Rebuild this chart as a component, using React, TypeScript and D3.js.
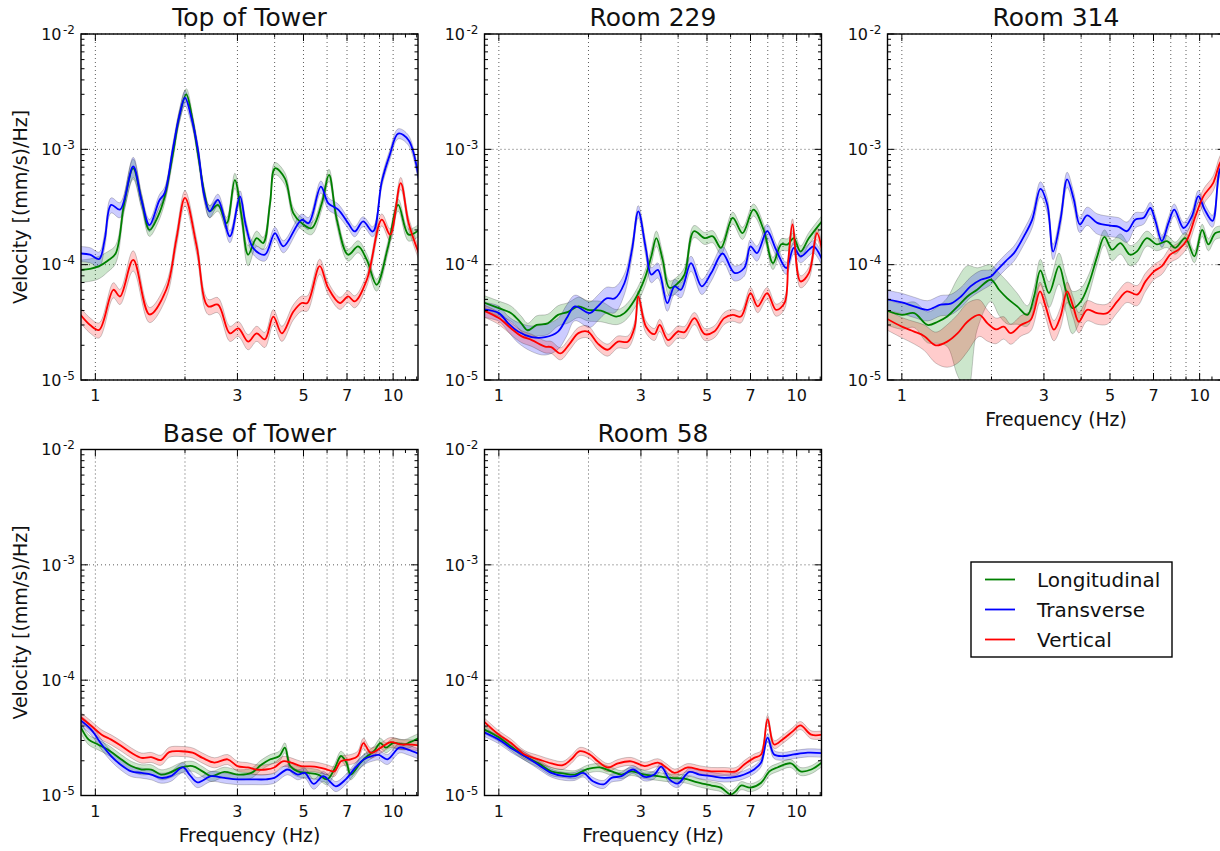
import React from "react";
import * as d3 from "d3";

// each point: [frequency (Hz), mean velocity, relative spread of the shaded band]
type Pt = [number, number, number];

const topLong: Pt[] = [
  [0.89, 9.0e-5, 0.22], [0.96, 9.2e-5, 0.22], [1.03, 9.7e-5, 0.22], [1.1, 1.08e-4, 0.2],
  [1.17, 1.25e-4, 0.18], [1.25, 3.4e-4, 0.15], [1.34, 6.85e-4, 0.2], [1.43, 3.6e-4, 0.15],
  [1.52, 2.0e-4, 0.12], [1.62, 2.6e-4, 0.12], [1.71, 3.9e-4, 0.12], [1.82, 9.0e-4, 0.12],
  [1.92, 2.0e-3, 0.12], [2.02, 3.0e-3, 0.12], [2.12, 1.8e-3, 0.12], [2.22, 8.5e-4, 0.12],
  [2.33, 4.0e-4, 0.12], [2.42, 2.9e-4, 0.12], [2.58, 3.3e-4, 0.12], [2.76, 2.29e-4, 0.12],
  [2.94, 5.4e-4, 0.15], [3.1, 2.6e-4, 0.15], [3.26, 1.22e-4, 0.2], [3.48, 1.7e-4, 0.15],
  [3.66, 1.54e-4, 0.12], [3.86, 3.4e-4, 0.12], [4.01, 6.85e-4, 0.12], [4.33, 5.6e-4, 0.12],
  [4.62, 2.8e-4, 0.12], [4.93, 2.29e-4, 0.12], [5.32, 2.07e-4, 0.12], [5.76, 3.4e-4, 0.12],
  [6.09, 6.0e-4, 0.12], [6.47, 2.45e-4, 0.12], [7.06, 1.22e-4, 0.12], [7.63, 1.44e-4, 0.12],
  [8.16, 1.1e-4, 0.12], [8.8, 6.7e-5, 0.12], [9.62, 1.44e-4, 0.12], [10.4, 3.3e-4, 0.12],
  [11.27, 1.82e-4, 0.12], [12.2, 2.0e-4, 0.12],
];
const topTrans: Pt[] = [
  [0.89, 1.25e-4, 0.15], [0.96, 1.22e-4, 0.15], [1.03, 1.12e-4, 0.15], [1.075, 1.65e-4, 0.15],
  [1.13, 3.3e-4, 0.15], [1.21, 3.0e-4, 0.15], [1.34, 7.1e-4, 0.2], [1.43, 3.6e-4, 0.12],
  [1.52, 2.2e-4, 0.12], [1.64, 3.6e-4, 0.12], [1.71, 4.2e-4, 0.12], [1.82, 1.0e-3, 0.12],
  [1.91, 1.9e-3, 0.12], [2.0, 2.8e-3, 0.15], [2.1, 1.9e-3, 0.12], [2.21, 1.0e-3, 0.12],
  [2.32, 4.0e-4, 0.12], [2.42, 2.9e-4, 0.12], [2.58, 3.65e-4, 0.12], [2.83, 1.76e-4, 0.12],
  [3.06, 3.9e-4, 0.12], [3.2, 2.2e-4, 0.12], [3.39, 1.39e-4, 0.12], [3.71, 1.22e-4, 0.12],
  [4.01, 1.88e-4, 0.12], [4.28, 1.44e-4, 0.12], [4.93, 2.45e-4, 0.12], [5.2, 2.29e-4, 0.12],
  [5.72, 4.75e-4, 0.12], [6.06, 3.4e-4, 0.12], [6.54, 3.0e-4, 0.12], [7.06, 2.29e-4, 0.1],
  [7.43, 1.94e-4, 0.1], [7.93, 2.37e-4, 0.1], [8.55, 1.94e-4, 0.1], [9.16, 5.25e-4, 0.1],
  [9.75, 9.0e-4, 0.1], [10.4, 1.37e-3, 0.1], [11.27, 1.2e-3, 0.1], [12.2, 5.5e-4, 0.1],
];
const topVert: Pt[] = [
  [0.89, 3.7e-5, 0.15], [0.96, 3.0e-5, 0.15], [1.03, 2.72e-5, 0.15], [1.15, 6.06e-5, 0.15],
  [1.21, 5.3e-5, 0.15], [1.34, 1.1e-4, 0.2], [1.52, 3.7e-5, 0.15], [1.73, 6.06e-5, 0.15],
  [1.87, 1.65e-4, 0.15], [2.0, 3.8e-4, 0.15], [2.19, 1.44e-4, 0.15], [2.39, 4.35e-5, 0.15],
  [2.58, 4.5e-5, 0.15], [2.83, 2.54e-5, 0.15], [3.02, 2.8e-5, 0.15], [3.26, 2.15e-5, 0.15],
  [3.48, 2.54e-5, 0.15], [3.71, 2.25e-5, 0.15], [3.96, 3.55e-5, 0.15], [4.23, 2.54e-5, 0.15],
  [4.62, 3.9e-5, 0.15], [4.93, 4.65e-5, 0.15], [5.15, 4.65e-5, 0.15], [5.67, 9.7e-5, 0.15],
  [6.05, 6.3e-5, 0.12], [6.63, 4.65e-5, 0.12], [7.06, 5.3e-5, 0.12], [7.43, 4.8e-5, 0.12],
  [8.16, 7.4e-5, 0.12], [9.16, 2.46e-4, 0.12], [9.77, 1.82e-4, 0.12], [10.6, 5.1e-4, 0.12],
  [11.27, 2.3e-4, 0.12], [12.2, 1.25e-4, 0.12],
];

const r229Long: Pt[] = [
  [0.89, 4.7e-5, 0.15], [1.0, 4.2e-5, 0.15], [1.1, 3.8e-5, 0.15], [1.19, 3.1e-5, 0.15],
  [1.25, 2.7e-5, 0.15], [1.34, 3.0e-5, 0.2], [1.46, 3.1e-5, 0.2], [1.58, 3.67e-5, 0.2],
  [1.71, 3.9e-5, 0.2], [1.85, 4.35e-5, 0.2], [1.99, 4.06e-5, 0.2], [2.2, 4.0e-5, 0.2],
  [2.48, 3.55e-5, 0.15], [2.64, 3.8e-5, 0.15], [2.86, 4.96e-5, 0.15], [3.09, 7.6e-5, 0.15],
  [3.25, 1.18e-4, 0.15], [3.38, 1.7e-4, 0.15], [3.55, 1.1e-4, 0.15], [3.74, 6.3e-5, 0.15],
  [3.99, 6.9e-5, 0.15], [4.2, 8.2e-5, 0.15], [4.52, 1.95e-4, 0.12], [4.91, 1.7e-4, 0.12],
  [5.23, 1.76e-4, 0.12], [5.57, 1.4e-4, 0.12], [6.1, 2.55e-4, 0.12], [6.58, 1.88e-4, 0.12],
  [7.16, 3.0e-4, 0.12], [7.75, 2.0e-4, 0.12], [8.33, 1.03e-4, 0.12], [8.88, 1.5e-4, 0.12],
  [9.33, 1.5e-4, 0.12], [9.78, 1.7e-4, 0.12], [10.3, 1.3e-4, 0.12], [11.0, 1.7e-4, 0.12],
  [12.2, 2.4e-4, 0.12],
];
const r229Trans: Pt[] = [
  [0.89, 4.1e-5, 0.15], [1.0, 3.8e-5, 0.15], [1.075, 3.1e-5, 0.15], [1.16, 2.63e-5, 0.2],
  [1.29, 2.35e-5, 0.25], [1.43, 2.35e-5, 0.3], [1.58, 2.63e-5, 0.3], [1.69, 3.44e-5, 0.3],
  [1.8, 4.35e-5, 0.25], [2.02, 3.8e-5, 0.25], [2.15, 4.35e-5, 0.25], [2.3, 5.1e-5, 0.25],
  [2.45, 5.1e-5, 0.25], [2.64, 6.9e-5, 0.2], [2.8, 1.35e-4, 0.15], [2.94, 2.9e-4, 0.12],
  [3.12, 1.35e-4, 0.15], [3.25, 8.2e-5, 0.15], [3.42, 9.0e-5, 0.15], [3.68, 4.64e-5, 0.15],
  [3.89, 6.48e-5, 0.15], [4.09, 6.06e-5, 0.15], [4.42, 1.03e-4, 0.15], [4.8, 6.48e-5, 0.15],
  [5.17, 8.5e-5, 0.15], [5.64, 1.25e-4, 0.15], [6.18, 8.5e-5, 0.15], [6.67, 9.35e-5, 0.15],
  [7.0, 1.44e-4, 0.15], [7.36, 1.26e-4, 0.15], [7.96, 1.95e-4, 0.15], [8.53, 1.35e-4, 0.12],
  [9.23, 9.35e-5, 0.12], [9.78, 1.4e-4, 0.12], [10.3, 1.18e-4, 0.12], [11.0, 1.35e-4, 0.12],
  [11.4, 1.44e-4, 0.12], [12.2, 1.1e-4, 0.12],
];
const r229Vert: Pt[] = [
  [0.89, 4.0e-5, 0.12], [1.0, 3.44e-5, 0.12], [1.1, 2.8e-5, 0.12], [1.19, 2.4e-5, 0.12],
  [1.29, 2.22e-5, 0.12], [1.43, 1.95e-5, 0.12], [1.5, 1.93e-5, 0.12], [1.61, 1.7e-5, 0.12],
  [1.73, 2.07e-5, 0.12], [1.85, 2.55e-5, 0.12], [1.99, 2.63e-5, 0.12], [2.15, 2.07e-5, 0.12],
  [2.32, 1.83e-5, 0.12], [2.51, 2.15e-5, 0.12], [2.71, 2.15e-5, 0.12], [2.86, 2.9e-5, 0.12],
  [2.94, 5.3e-5, 0.12], [3.12, 2.9e-5, 0.12], [3.33, 2.5e-5, 0.12], [3.47, 3.0e-5, 0.12],
  [3.7, 2.22e-5, 0.12], [3.99, 2.63e-5, 0.12], [4.2, 2.6e-5, 0.12], [4.54, 3.44e-5, 0.12],
  [4.91, 2.5e-5, 0.12], [5.29, 2.63e-5, 0.12], [5.71, 3.44e-5, 0.12], [6.1, 3.67e-5, 0.12],
  [6.5, 3.55e-5, 0.12], [7.0, 5.67e-5, 0.12], [7.4, 4.35e-5, 0.12], [7.96, 5.67e-5, 0.12],
  [8.53, 4.06e-5, 0.12], [9.1, 4.64e-5, 0.12], [9.38, 1.1e-4, 0.12], [9.69, 2.23e-4, 0.12],
  [10.3, 7.16e-5, 0.12], [11.0, 8.5e-5, 0.12], [11.7, 1.88e-4, 0.12], [12.2, 1.3e-4, 0.12],
];

const r314Long: Pt[] = [
  [0.89, 4.0e-5, 0.25], [1.0, 3.67e-5, 0.25], [1.1, 3.8e-5, 0.25], [1.22, 3.0e-5, 0.3],
  [1.32, 3.2e-5, 0.35], [1.42, 3.55e-5, 0.45], [1.54, 4.35e-5, 0.75], [1.66, 5.3e-5, 0.85],
  [1.79, 6.06e-5, 0.55], [1.99, 7.4e-5, 0.35], [2.12, 6.06e-5, 0.4], [2.26, 5.1e-5, 0.4],
  [2.44, 4.35e-5, 0.3], [2.64, 3.67e-5, 0.2], [2.78, 5.3e-5, 0.2], [2.92, 8.9e-5, 0.25],
  [3.12, 5.67e-5, 0.25], [3.37, 9.7e-5, 0.3], [3.55, 6.06e-5, 0.35], [3.74, 4.2e-5, 0.4],
  [3.99, 4.8e-5, 0.3], [4.25, 6.9e-5, 0.2], [4.53, 1.18e-4, 0.15], [4.79, 1.74e-4, 0.15],
  [5.08, 1.35e-4, 0.2], [5.42, 1.54e-4, 0.2], [5.84, 1.22e-4, 0.2], [6.15, 1.3e-4, 0.2],
  [6.65, 1.7e-4, 0.15], [7.18, 1.5e-4, 0.12], [7.77, 1.6e-4, 0.12], [8.28, 1.4e-4, 0.12],
  [8.95, 1.7e-4, 0.12], [9.6, 1.18e-4, 0.12], [10.2, 2.0e-4, 0.12], [10.7, 1.5e-4, 0.12],
  [11.3, 1.88e-4, 0.12], [12.2, 1.95e-4, 0.12],
];
const r314Trans: Pt[] = [
  [0.89, 5.0e-5, 0.2], [1.0, 4.7e-5, 0.2], [1.1, 4.35e-5, 0.2], [1.22, 4.06e-5, 0.2],
  [1.35, 4.5e-5, 0.2], [1.46, 4.6e-5, 0.2], [1.58, 5.3e-5, 0.2], [1.7, 6.48e-5, 0.2],
  [1.84, 7.4e-5, 0.2], [1.99, 7.9e-5, 0.15], [2.09, 9.0e-5, 0.15], [2.23, 1.07e-4, 0.15],
  [2.38, 1.26e-4, 0.15], [2.57, 1.76e-4, 0.15], [2.74, 2.46e-4, 0.15], [2.92, 4.55e-4, 0.15],
  [3.08, 3.3e-4, 0.15], [3.22, 1.3e-4, 0.15], [3.41, 2.46e-4, 0.15], [3.59, 5.5e-4, 0.15],
  [3.78, 3.67e-4, 0.15], [3.96, 2.23e-4, 0.15], [4.19, 2.67e-4, 0.18], [4.53, 2.3e-4, 0.2],
  [5.02, 2.18e-4, 0.2], [5.35, 2.13e-4, 0.2], [5.7, 1.95e-4, 0.2], [6.09, 2.46e-4, 0.15],
  [6.49, 2.55e-4, 0.12], [6.83, 3.1e-4, 0.12], [7.1, 2.4e-4, 0.12], [7.47, 1.6e-4, 0.12],
  [7.86, 2.3e-4, 0.12], [8.22, 3.0e-4, 0.12], [8.83, 2.08e-4, 0.12], [9.42, 2.63e-4, 0.12],
  [9.9, 3.93e-4, 0.12], [10.4, 3.0e-4, 0.12], [11.05, 2.4e-4, 0.12], [11.7, 6.7e-4, 0.12],
  [12.2, 7.8e-4, 0.12],
];
const r314Vert: Pt[] = [
  [0.89, 3.4e-5, 0.2], [1.0, 2.9e-5, 0.2], [1.1, 2.63e-5, 0.22], [1.19, 2.4e-5, 0.25],
  [1.3, 2.0e-5, 0.3], [1.42, 2.15e-5, 0.4], [1.54, 2.55e-5, 0.45], [1.66, 3.2e-5, 0.45],
  [1.82, 3.67e-5, 0.35], [1.94, 3.1e-5, 0.3], [2.07, 2.75e-5, 0.25], [2.2, 2.9e-5, 0.22],
  [2.32, 2.55e-5, 0.2], [2.51, 3.0e-5, 0.2], [2.71, 3.33e-5, 0.2], [2.91, 5.87e-5, 0.2],
  [3.04, 4.35e-5, 0.2], [3.24, 2.73e-5, 0.2], [3.41, 3.55e-5, 0.2], [3.59, 5.87e-5, 0.2],
  [3.76, 4.35e-5, 0.2], [3.93, 3.2e-5, 0.2], [4.19, 4.06e-5, 0.2], [4.53, 3.8e-5, 0.2],
  [4.89, 3.8e-5, 0.2], [5.29, 4.8e-5, 0.2], [5.7, 5.87e-5, 0.2], [6.17, 5.5e-5, 0.2],
  [6.58, 7.16e-5, 0.18], [7.03, 8.75e-5, 0.15], [7.47, 9.7e-5, 0.15], [7.96, 1.22e-4, 0.15],
  [8.5, 1.35e-4, 0.15], [9.08, 1.65e-4, 0.15], [9.68, 2.63e-4, 0.15], [10.3, 3.93e-4, 0.15],
  [11.1, 5.1e-4, 0.15], [11.7, 7.6e-4, 0.15], [12.2, 8.8e-4, 0.15],
];

const baseLong: Pt[] = [
  [0.89, 4.0e-5, 0.12], [0.95, 3.05e-5, 0.1], [1.02, 2.77e-5, 0.1], [1.1, 2.5e-5, 0.1],
  [1.22, 2.06e-5, 0.1], [1.32, 1.8e-5, 0.1], [1.43, 1.68e-5, 0.1], [1.54, 1.68e-5, 0.1],
  [1.66, 1.52e-5, 0.1], [1.77, 1.57e-5, 0.1], [1.94, 1.75e-5, 0.1], [2.12, 1.8e-5, 0.1],
  [2.29, 1.62e-5, 0.1], [2.45, 1.47e-5, 0.1], [2.71, 1.6e-5, 0.1], [3.0, 1.52e-5, 0.1],
  [3.34, 1.57e-5, 0.1], [3.6, 1.84e-5, 0.1], [3.87, 2.06e-5, 0.1], [4.15, 2.2e-5, 0.1],
  [4.33, 2.6e-5, 0.1], [4.51, 1.8e-5, 0.1], [4.78, 1.62e-5, 0.1], [5.17, 1.57e-5, 0.1],
  [5.6, 1.52e-5, 0.1], [6.0, 1.38e-5, 0.1], [6.34, 1.68e-5, 0.1], [6.68, 2.2e-5, 0.1],
  [6.97, 1.93e-5, 0.1], [7.2, 1.52e-5, 0.1], [7.78, 1.93e-5, 0.1], [8.2, 2.2e-5, 0.1],
  [8.62, 2.42e-5, 0.1], [9.06, 2.85e-5, 0.1], [9.45, 2.6e-5, 0.1], [10.0, 2.85e-5, 0.1],
  [10.9, 2.77e-5, 0.1], [11.4, 2.9e-5, 0.1], [12.2, 3.15e-5, 0.1],
];
const baseTrans: Pt[] = [
  [0.89, 4.5e-5, 0.1], [0.97, 3.7e-5, 0.1], [1.05, 2.77e-5, 0.1], [1.13, 2.2e-5, 0.1],
  [1.22, 1.84e-5, 0.1], [1.32, 1.62e-5, 0.1], [1.43, 1.57e-5, 0.1], [1.54, 1.52e-5, 0.1],
  [1.66, 1.42e-5, 0.1], [1.79, 1.47e-5, 0.1], [1.97, 1.75e-5, 0.1], [2.07, 1.52e-5, 0.1],
  [2.2, 1.3e-5, 0.1], [2.45, 1.47e-5, 0.1], [2.71, 1.42e-5, 0.1], [3.0, 1.38e-5, 0.1],
  [3.34, 1.38e-5, 0.1], [3.74, 1.38e-5, 0.1], [3.99, 1.42e-5, 0.1], [4.42, 1.68e-5, 0.1],
  [4.78, 1.52e-5, 0.1], [5.05, 1.57e-5, 0.1], [5.41, 1.26e-5, 0.1], [5.82, 1.47e-5, 0.1],
  [6.12, 1.33e-5, 0.1], [6.42, 1.2e-5, 0.1], [6.93, 1.38e-5, 0.1], [7.48, 1.75e-5, 0.1],
  [7.99, 2.06e-5, 0.1], [8.5, 2.2e-5, 0.1], [8.95, 2.25e-5, 0.1], [9.56, 2.06e-5, 0.1],
  [10.5, 2.6e-5, 0.1], [11.2, 2.5e-5, 0.1], [12.2, 2.3e-5, 0.1],
];
const baseVert: Pt[] = [
  [0.89, 4.8e-5, 0.1], [0.97, 4.0e-5, 0.1], [1.05, 3.37e-5, 0.1], [1.13, 3.05e-5, 0.1],
  [1.22, 2.7e-5, 0.1], [1.32, 2.35e-5, 0.1], [1.43, 2.12e-5, 0.1], [1.54, 2.15e-5, 0.1],
  [1.66, 2.03e-5, 0.1], [1.77, 2.38e-5, 0.1], [1.94, 2.42e-5, 0.1], [2.12, 2.35e-5, 0.1],
  [2.29, 2.12e-5, 0.1], [2.51, 1.93e-5, 0.1], [2.78, 2.06e-5, 0.1], [3.0, 1.8e-5, 0.1],
  [3.25, 1.75e-5, 0.1], [3.47, 1.68e-5, 0.1], [3.74, 1.68e-5, 0.1], [3.99, 1.75e-5, 0.1],
  [4.26, 1.98e-5, 0.1], [4.54, 1.93e-5, 0.1], [4.9, 1.8e-5, 0.1], [5.44, 1.78e-5, 0.1],
  [6.0, 1.68e-5, 0.1], [6.34, 1.62e-5, 0.1], [6.68, 1.98e-5, 0.1], [7.2, 2.06e-5, 0.1],
  [7.6, 2.2e-5, 0.1], [7.95, 2.85e-5, 0.1], [8.4, 2.35e-5, 0.1], [9.1, 2.6e-5, 0.1],
  [9.8, 2.9e-5, 0.1], [10.6, 2.77e-5, 0.1], [11.2, 2.77e-5, 0.1], [12.2, 2.72e-5, 0.1],
];

const r58Long: Pt[] = [
  [0.89, 3.75e-5, 0.08], [1.0, 3.2e-5, 0.08], [1.1, 2.66e-5, 0.08], [1.22, 2.2e-5, 0.08],
  [1.36, 1.9e-5, 0.08], [1.5, 1.62e-5, 0.08], [1.66, 1.55e-5, 0.08], [1.8, 1.52e-5, 0.08],
  [1.99, 1.7e-5, 0.08], [2.18, 1.75e-5, 0.08], [2.39, 1.62e-5, 0.08], [2.58, 1.52e-5, 0.08],
  [2.78, 1.62e-5, 0.08], [3.09, 1.52e-5, 0.08], [3.42, 1.47e-5, 0.08], [3.79, 1.42e-5, 0.08],
  [4.2, 1.4e-5, 0.08], [4.65, 1.3e-5, 0.08], [5.17, 1.22e-5, 0.08], [5.57, 1.17e-5, 0.08],
  [6.0, 1.02e-5, 0.08], [6.25, 1.09e-5, 0.08], [6.5, 1.22e-5, 0.08], [7.0, 1.17e-5, 0.08],
  [7.6, 1.29e-5, 0.08], [8.1, 1.62e-5, 0.08], [8.62, 1.75e-5, 0.08], [9.56, 1.9e-5, 0.08],
  [10.3, 1.62e-5, 0.08], [11.2, 1.68e-5, 0.08], [12.2, 1.95e-5, 0.08],
];
const r58Trans: Pt[] = [
  [0.89, 3.55e-5, 0.08], [1.0, 3.05e-5, 0.08], [1.1, 2.57e-5, 0.08], [1.22, 2.2e-5, 0.08],
  [1.36, 1.84e-5, 0.08], [1.5, 1.57e-5, 0.08], [1.66, 1.47e-5, 0.08], [1.8, 1.47e-5, 0.08],
  [1.92, 1.57e-5, 0.08], [2.07, 1.33e-5, 0.08], [2.25, 1.25e-5, 0.08], [2.39, 1.42e-5, 0.08],
  [2.58, 1.47e-5, 0.08], [2.82, 1.68e-5, 0.08], [3.09, 1.45e-5, 0.08], [3.33, 1.52e-5, 0.08],
  [3.51, 1.78e-5, 0.08], [3.74, 1.38e-5, 0.08], [3.99, 1.27e-5, 0.08], [4.36, 1.6e-5, 0.08],
  [4.71, 1.52e-5, 0.08], [5.17, 1.47e-5, 0.08], [5.71, 1.42e-5, 0.08], [6.25, 1.45e-5, 0.08],
  [6.67, 1.52e-5, 0.08], [7.2, 1.68e-5, 0.08], [7.6, 1.93e-5, 0.08], [7.99, 3.17e-5, 0.08],
  [8.4, 2.27e-5, 0.08], [9.1, 2.2e-5, 0.08], [9.8, 2.27e-5, 0.08], [10.9, 2.35e-5, 0.08],
  [12.2, 2.33e-5, 0.08],
];
const r58Vert: Pt[] = [
  [0.89, 4.4e-5, 0.08], [1.0, 3.37e-5, 0.08], [1.1, 2.85e-5, 0.08], [1.22, 2.27e-5, 0.08],
  [1.36, 2.06e-5, 0.08], [1.5, 1.9e-5, 0.08], [1.64, 1.83e-5, 0.08], [1.75, 2.06e-5, 0.08],
  [1.87, 2.42e-5, 0.08], [2.02, 2.27e-5, 0.08], [2.15, 1.98e-5, 0.08], [2.32, 1.75e-5, 0.08],
  [2.51, 1.9e-5, 0.08], [2.78, 1.98e-5, 0.08], [3.09, 1.8e-5, 0.08], [3.42, 1.93e-5, 0.08],
  [3.65, 1.75e-5, 0.08], [3.89, 1.57e-5, 0.08], [4.31, 1.75e-5, 0.08], [4.71, 1.68e-5, 0.08],
  [5.17, 1.62e-5, 0.08], [5.71, 1.62e-5, 0.08], [6.25, 1.62e-5, 0.08], [6.67, 1.86e-5, 0.08],
  [7.2, 2.12e-5, 0.08], [7.6, 2.27e-5, 0.08], [7.99, 4.6e-5, 0.08], [8.4, 2.77e-5, 0.08],
  [8.95, 3.05e-5, 0.08], [9.7, 3.6e-5, 0.08], [10.3, 4.05e-5, 0.08], [11.2, 3.37e-5, 0.08],
  [12.2, 3.37e-5, 0.08],
];

const seriesNames = ["Longitudinal", "Transverse", "Vertical"];
const seriesColors = ["#008000", "#0000ff", "#ff0000"];

const xTickLabels = [1, 3, 5, 7, 10];
const xMinorTicks = [2, 4, 6, 8, 9, 11, 12];
const xGridLines = [1, 2, 3, 4, 5, 6, 7, 8, 9, 10];
const yDecades = [1e-5, 1e-4, 1e-3, 1e-2];
const yExponents = ["-5", "-4", "-3", "-2"];

const panels = [
  { title: "Top of Tower", col: 0, row: 0, series: [topLong, topTrans, topVert], yLabel: true, xLabel: false },
  { title: "Room 229", col: 1, row: 0, series: [r229Long, r229Trans, r229Vert], yLabel: false, xLabel: false },
  { title: "Room 314", col: 2, row: 0, series: [r314Long, r314Trans, r314Vert], yLabel: false, xLabel: true },
  { title: "Base of Tower", col: 0, row: 1, series: [baseLong, baseTrans, baseVert], yLabel: true, xLabel: true },
  { title: "Room 58", col: 1, row: 1, series: [r58Long, r58Trans, r58Vert], yLabel: false, xLabel: true },
];

const W = 1220;
const H = 851;
const PW = 337;
const PH = 346;
const colLeft = [81, 484.5, 887.5];
const rowTop = [34, 449.5];
const FONT = "DejaVu Sans, Liberation Sans, sans-serif";

function Panel({ p, idx }: { p: typeof panels[number]; idx: number }) {
  const left = colLeft[p.col];
  const top = rowTop[p.row];
  const right = left + PW;
  const bottom = top + PH;

  const x = d3.scaleLog().domain([0.895, 12.12]).range([left, right]);
  const y = d3.scaleLog().domain([1e-5, 1e-2]).range([bottom, top]);

  const curve = d3.curveCatmullRom.alpha(0.5);
  const line = d3.line<Pt>().x((d) => x(d[0])).y((d) => y(d[1])).curve(curve);
  const band = d3
    .area<Pt>()
    .x((d) => x(d[0]))
    .y0((d) => y(Math.max(d[1] * (1 - d[2]), 1e-7)))
    .y1((d) => y(d[1] * (1 + d[2])))
    .curve(curve);

  const yMinor: number[] = [];
  yDecades.slice(0, 3).forEach((dec) => {
    for (let k = 2; k <= 9; k++) yMinor.push(k * dec);
  });

  const clipId = `clip-${idx}`;

  return (
    <g>
      <defs>
        <clipPath id={clipId}>
          <rect x={left} y={top} width={PW} height={PH} />
        </clipPath>
      </defs>

      {/* grid */}
      {xGridLines.map((f) => (
        <line key={"gx" + f} x1={x(f)} x2={x(f)} y1={top} y2={bottom}
          stroke="#333" strokeWidth={0.8} strokeDasharray="1,3" />
      ))}
      {yDecades.map((v) => (
        <line key={"gy" + v} x1={left} x2={right} y1={y(v)} y2={y(v)}
          stroke="#333" strokeWidth={0.8} strokeDasharray="1,3" />
      ))}

      {/* bands then lines */}
      <g clipPath={`url(#${clipId})`}>
        {p.series.map((s, i) => (
          <path key={"b" + i} d={band(s) || ""} fill={seriesColors[i]} fillOpacity={0.2}
            stroke="#000" strokeOpacity={0.2} strokeWidth={1} />
        ))}
        {p.series.map((s, i) => (
          <path key={"l" + i} d={line(s) || ""} fill="none" stroke={seriesColors[i]}
            strokeWidth={1.8} />
        ))}
      </g>

      {/* ticks */}
      {yDecades.map((v) => (
        <g key={"ty" + v}>
          <line x1={left} x2={left + 7} y1={y(v)} y2={y(v)} stroke="#000" strokeWidth={1} />
          <line x1={right} x2={right - 7} y1={y(v)} y2={y(v)} stroke="#000" strokeWidth={1} />
        </g>
      ))}
      {yMinor.map((v) => (
        <g key={"tym" + v}>
          <line x1={left} x2={left + 3.5} y1={y(v)} y2={y(v)} stroke="#000" strokeWidth={1} />
          <line x1={right} x2={right - 3.5} y1={y(v)} y2={y(v)} stroke="#000" strokeWidth={1} />
        </g>
      ))}
      {xTickLabels.map((f) => (
        <g key={"tx" + f}>
          <line x1={x(f)} x2={x(f)} y1={bottom} y2={bottom - 7} stroke="#000" strokeWidth={1} />
          <line x1={x(f)} x2={x(f)} y1={top} y2={top + 7} stroke="#000" strokeWidth={1} />
        </g>
      ))}
      {xMinorTicks.map((f) => (
        <g key={"txm" + f}>
          <line x1={x(f)} x2={x(f)} y1={bottom} y2={bottom - 3.5} stroke="#000" strokeWidth={1} />
          <line x1={x(f)} x2={x(f)} y1={top} y2={top + 3.5} stroke="#000" strokeWidth={1} />
        </g>
      ))}

      {/* frame */}
      <rect x={left} y={top} width={PW} height={PH} fill="none" stroke="#000" strokeWidth={1.4} />

      {/* tick labels */}
      {yDecades.map((v, i) => (
        <g key={"ly" + v} fontFamily={FONT} fill="#111">
          <text x={left - 19.5} y={y(v) + 5.8} fontSize={16} textAnchor="end">10</text>
          <text x={left - 18} y={y(v) - 0.5} fontSize={12} textAnchor="start">{yExponents[i]}</text>
        </g>
      ))}
      {xTickLabels.map((f) => (
        <text key={"lx" + f} x={x(f)} y={bottom + 21} fontSize={16} textAnchor="middle"
          fontFamily={FONT} fill="#111">{f}</text>
      ))}

      {/* title and axis labels */}
      <text x={(left + right) / 2} y={top - 8} fontSize={25} textAnchor="middle"
        fontFamily={FONT} fill="#111">{p.title}</text>
      {p.xLabel && (
        <text x={(left + right) / 2} y={bottom + 46} fontSize={18.8} textAnchor="middle"
          fontFamily={FONT} fill="#111">Frequency (Hz)</text>
      )}
      {p.yLabel && (
        <text transform={`translate(${left - 54},${(top + bottom) / 2}) rotate(-90)`}
          fontSize={19} textAnchor="middle" fontFamily={FONT} fill="#111">
          Velocity [(mm/s)/Hz]
        </text>
      )}
    </g>
  );
}

function Legend() {
  const lx = 971;
  const ly = 562;
  return (
    <g fontFamily={FONT}>
      <rect x={lx} y={ly} width={201} height={95} fill="#fff" stroke="#000" strokeWidth={1.4} />
      {seriesNames.map((name, i) => (
        <g key={name}>
          <line x1={lx + 14} x2={lx + 44} y1={ly + 17.5 + i * 30} y2={ly + 17.5 + i * 30}
            stroke={seriesColors[i]} strokeWidth={1.8} />
          <text x={lx + 66} y={ly + 24.5 + i * 30} fontSize={20} fill="#111">{name}</text>
        </g>
      ))}
    </g>
  );
}

export default function App() {
  return (
    <svg width={W} height={H} style={{ position: "absolute", left: 0, top: 0, background: "#fff" }}>
      <rect x={0} y={0} width={W} height={H} fill="#fff" />
      {panels.map((p, i) => (
        <Panel key={p.title} p={p} idx={i} />
      ))}
      <Legend />
    </svg>
  );
}
